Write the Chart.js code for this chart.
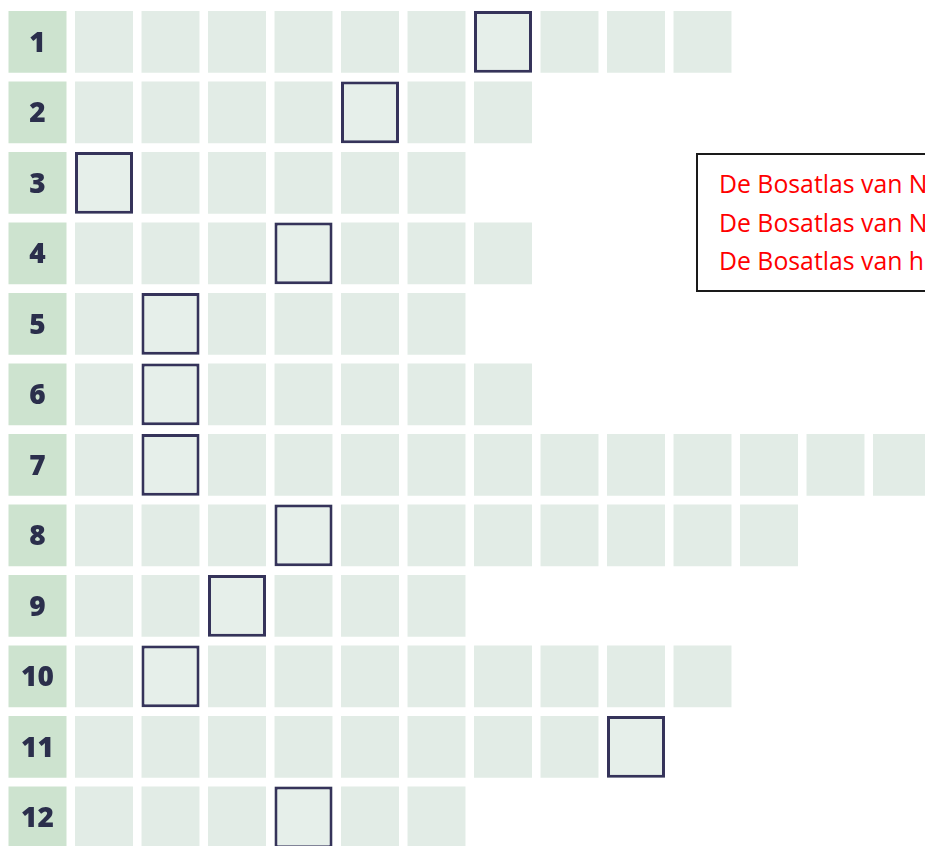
<!DOCTYPE html>
<html>
<head>
<meta charset="utf-8">
<script src="https://cdn.jsdelivr.net/npm/chart.js@4/dist/chart.umd.min.js"></script>
<style>
  html, body { margin: 0; padding: 0; background: #ffffff; overflow: hidden; width: 925px; height: 846px; }
  #wrap { position: absolute; left: 0; top: 0; width: 925px; height: 853px; }
  #note {
    position: absolute; left: 696px; top: 153px; width: 320px; height: 139px;
    box-sizing: border-box; border: 2px solid #1a1a1a; background: #ffffff;
    padding: 9px 0 0 21px; font-family: "Open Sans", sans-serif; font-size: 24.8px;
    line-height: 38.5px; color: #ff0000; white-space: nowrap;
  }
</style>
</head>
<body>
<div id="wrap"><canvas id="c"></canvas></div>
<div id="note"></div>
<script>
// ---- data ----
const rowLabels = ['1','2','3','4','5','6','7','8','9','10','11','12'];
const rowLengths = [10, 7, 6, 7, 6, 7, 13, 11, 6, 10, 9, 6];      // number of squares per row
const highlightedColumn = [7, 5, 1, 4, 2, 2, 2, 4, 3, 2, 9, 4];   // boxed square per row
const noteLines = ['De Bosatlas van N', 'De Bosatlas van N', 'De Bosatlas van h'];

// ---- styles ----
const HALF = 0.436;               // half width of a square in column units
const LABEL_FONT = { family: '"Open Sans", sans-serif', size: 28, weight: '800' };
const maxCols = Math.max(...rowLengths);

document.getElementById('note').innerHTML = noteLines.map(t => '<div>' + t + '</div>').join('');

const datasets = [];
// boxed squares (lowest order = drawn on top)
datasets.push({
  order: 0,
  data: highlightedColumn.map(c => [c - HALF, c + HALF]),
  backgroundColor: '#e6efea', borderColor: '#35335a', borderWidth: 3, borderSkipped: false
});
// number column (column 0)
datasets.push({
  order: 1,
  data: rowLabels.map(() => [0 - HALF, 0 + HALF]),
  backgroundColor: '#cde3cf', borderWidth: 0
});
// answer squares
for (let c = 1; c <= maxCols; c++) {
  datasets.push({
    order: 1,
    data: rowLengths.map(len => len >= c ? [c - HALF, c + HALF] : null),
    backgroundColor: '#e2ece6', borderWidth: 0
  });
}

// measure widest label so the mirrored, centred labels sit in the middle of column 0
const mctx = document.createElement('canvas').getContext('2d');
mctx.font = `${LABEL_FONT.weight} ${LABEL_FONT.size}px ${LABEL_FONT.family}`;
const widest = Math.max(...rowLabels.map(l => mctx.measureText(l).width));
const PAD_LEFT = 4.25;
const UNIT = 66.5;
const labelPadding = (0.5 * UNIT) - widest / 2;

new Chart(document.getElementById('c'), {
  type: 'bar',
  data: { labels: rowLabels, datasets },
  options: {
    indexAxis: 'y',
    responsive: true,
    maintainAspectRatio: false,
    animation: false,
    layout: { padding: { left: PAD_LEFT, top: 6.6, right: 0, bottom: 0.4 } },
    datasets: { bar: { grouped: false, barPercentage: 1, categoryPercentage: 0.875 } },
    plugins: { legend: { display: false }, tooltip: { enabled: false } },
    scales: {
      x: {
        type: 'linear', display: false,
        min: -0.5, max: -0.5 + (925 - PAD_LEFT) / UNIT
      },
      y: {
        type: 'category',
        grid: { display: false, drawTicks: false, tickLength: 0 },
        border: { display: false },
        afterFit: (scale) => { scale.width = 0; scale.paddingTop = 0; scale.paddingBottom = 0; },
        ticks: {
          mirror: true, crossAlign: 'center', padding: labelPadding, labelOffset: 2, z: 1,
          color: '#2b2f4c', font: LABEL_FONT
        }
      }
    }
  }
});
</script>
</body>
</html>
